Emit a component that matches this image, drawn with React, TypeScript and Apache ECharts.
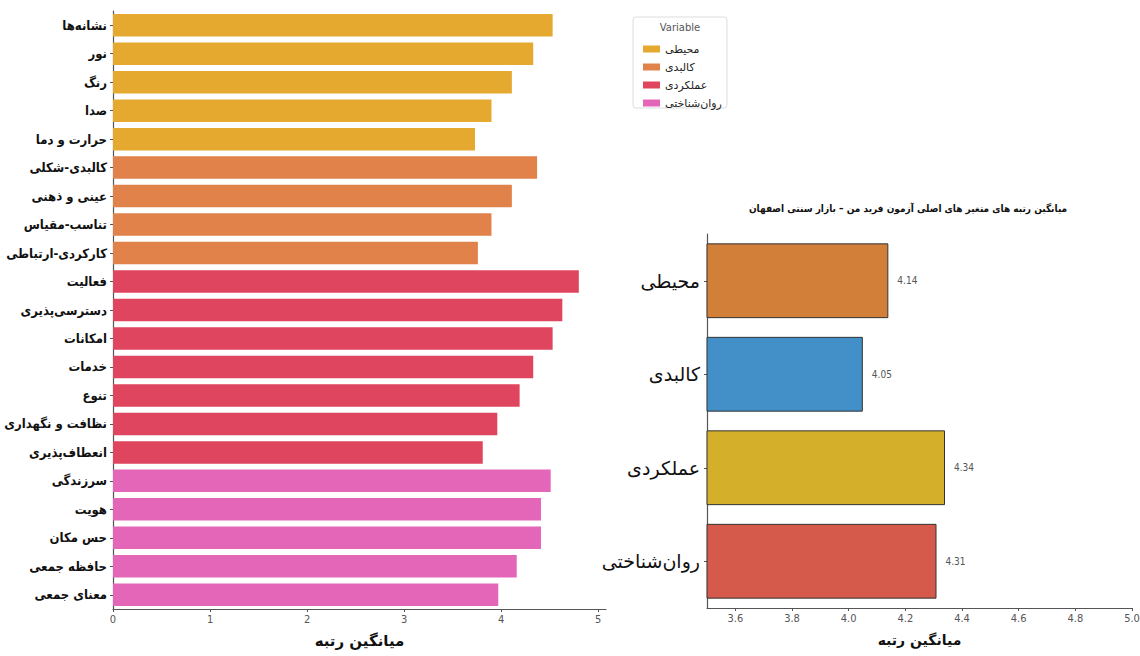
import React, { useEffect, useRef } from "react";
import * as echarts from "echarts";

const FONT = "DejaVu Sans";
const COND = "'DejaVu Sans Condensed', 'DejaVu Sans'";

const groupNames = ["محیطی", "کالبدی", "عملکردی", "روان‌شناختی"];
const groupColors = ["#E5A92F", "#E1824A", "#E0455F", "#E366B9"];

const leftCategories = [
  "نشانه‌ها",
  "نور",
  "رنگ",
  "صدا",
  "حرارت و دما",
  "کالبدی-شکلی",
  "عینی و ذهنی",
  "تناسب-مقیاس",
  "کارکردی-ارتباطی",
  "فعالیت",
  "دسترسی‌پذیری",
  "امکانات",
  "خدمات",
  "تنوع",
  "نظافت و نگهداری",
  "انعطاف‌پذیری",
  "سرزندگی",
  "هویت",
  "حس مکان",
  "حافظه جمعی",
  "معنای جمعی",
];
const leftGroupOf = [0, 0, 0, 0, 0, 1, 1, 1, 1, 2, 2, 2, 2, 2, 2, 2, 3, 3, 3, 3, 3];
const leftValues = [
  4.53, 4.33, 4.11, 3.9, 3.73, 4.37, 4.11, 3.9, 3.76, 4.8, 4.63, 4.53, 4.33, 4.19, 3.96,
  3.81, 4.51, 4.41, 4.41, 4.16, 3.97,
];
const leftTicks = [0, 1, 2, 3, 4, 5];

const rightTitle = "میانگین رتبه های متغیر های اصلی آزمون فرید من – بازار سنتی اصفهان";
const rightCategories = ["محیطی", "کالبدی", "عملکردی", "روان‌شناختی"];
const rightValues = [4.14, 4.05, 4.34, 4.31];
const rightColors = ["#D27F3A", "#4390C8", "#D4B02A", "#D65A4B"];
const rightTicks = [3.6, 3.8, 4.0, 4.2, 4.4, 4.6, 4.8, 5.0];

const axisName = "میانگین رتبه";

export default function App() {
  const ref = useRef<HTMLDivElement>(null);
  useEffect(() => {
    if (!ref.current) return;
    const chart = echarts.init(ref.current, null, { renderer: "svg" });

    const leftSeries = groupNames.map((name, g) => ({
      type: "bar",
      name,
      xAxisIndex: 0,
      yAxisIndex: 0,
      stack: "left",
      barCategoryGap: "21%",
      itemStyle: { color: groupColors[g] },
      data: leftValues.map((v, i) => (leftGroupOf[i] === g ? v : "-")),
    }));

    const option: any = {
      animation: false,
      backgroundColor: "#ffffff",
      textStyle: { fontFamily: FONT },
      grid: [
        { left: 113, top: 11, width: 493, height: 598, containLabel: false, outerBoundsMode: "none" },
        { left: 707, top: 234, width: 425, height: 374, containLabel: false, outerBoundsMode: "none" },
      ],
      xAxis: [
        {
          type: "value",
          gridIndex: 0,
          min: 0,
          max: 5.08,
          splitLine: { show: false },
          axisLine: { show: true, lineStyle: { color: "#555", width: 1.2 } },
          axisTick: { show: true, length: 3, lineStyle: { color: "#555" }, customValues: leftTicks },
          axisLabel: { color: "#555", fontSize: 11, margin: 5, customValues: leftTicks, fontFamily: COND },
          name: axisName,
          nameLocation: "middle",
          nameGap: 24,
          nameMoveOverlap: false,
          nameTextStyle: { fontSize: 15, fontWeight: "bold", color: "#111", fontFamily: FONT },
        },
        {
          type: "value",
          gridIndex: 1,
          min: 3.5,
          max: 5.0,
          splitLine: { show: false },
          axisLine: { show: true, lineStyle: { color: "#555", width: 1.2 } },
          axisTick: { show: true, length: 3, lineStyle: { color: "#555" }, customValues: rightTicks },
          axisLabel: {
            color: "#555",
            fontSize: 11,
            margin: 5,
            customValues: rightTicks,
            formatter: (v: number) => v.toFixed(1),
            fontFamily: COND,
          },
          name: axisName,
          nameLocation: "middle",
          nameGap: 25,
          nameMoveOverlap: false,
          nameTextStyle: { fontSize: 14, fontWeight: "bold", color: "#111", fontFamily: FONT },
        },
      ],
      yAxis: [
        {
          type: "category",
          gridIndex: 0,
          inverse: true,
          data: leftCategories,
          axisLine: { show: true, lineStyle: { color: "#555", width: 1.2 } },
          axisTick: { show: true, alignWithLabel: true, length: 3, lineStyle: { color: "#555" } },
          axisLabel: { color: "#111", fontSize: 13, fontWeight: "bold", margin: 6, fontFamily: COND },
        },
        {
          type: "category",
          gridIndex: 1,
          inverse: true,
          data: rightCategories,
          axisLine: { show: true, lineStyle: { color: "#555", width: 1.2 } },
          axisTick: { show: true, alignWithLabel: true, length: 3, lineStyle: { color: "#555" } },
          axisLabel: { color: "#111", fontSize: 19, margin: 7, fontFamily: FONT },
        },
      ],
      legend: {
        data: groupNames,
        orient: "vertical",
        left: 638,
        top: 38,
        itemWidth: 17,
        itemHeight: 7,
        itemGap: 6,
        icon: "rect",
        textStyle: { fontSize: 11, lineHeight: 12, color: "#222", fontFamily: FONT },
      },
      graphic: [
        {
          type: "rect",
          z: 0,
          shape: { x: 633, y: 17, width: 94, height: 91, r: 3 },
          style: { fill: "#ffffff", stroke: "#dddddd", lineWidth: 1 },
        },
        {
          type: "text",
          z: 1,
          x: 680,
          y: 27,
          style: {
            text: "Variable",
            fill: "#555",
            fontSize: 10,
            fontFamily: FONT,
            textAlign: "center",
            textVerticalAlign: "middle",
          },
        },
        {
          type: "text",
          z: 1,
          x: 908,
          y: 208,
          style: {
            text: rightTitle,
            fill: "#111",
            fontSize: 10,
            fontWeight: "bold",
            fontFamily: COND,
            textAlign: "center",
            textVerticalAlign: "middle",
          },
        },
      ],
      series: [
        ...leftSeries,
        {
          type: "bar",
          name: "mean",
          xAxisIndex: 1,
          yAxisIndex: 1,
          barCategoryGap: "20%",
          data: rightValues.map((v, i) => ({
            value: v,
            itemStyle: { color: rightColors[i], borderColor: "#333", borderWidth: 1 },
          })),
          label: {
            show: true,
            position: "right",
            distance: 9,
            color: "#555",
            fontSize: 10,
            fontFamily: COND,
            formatter: (p: any) => Number(p.value).toFixed(2),
          },
        },
      ],
    };
    chart.setOption(option);
    return () => chart.dispose();
  }, []);
  return (
    <div
      ref={ref}
      style={{ position: "fixed", left: 0, top: 0, width: 1140, height: 656, background: "#fff" }}
    />
  );
}
